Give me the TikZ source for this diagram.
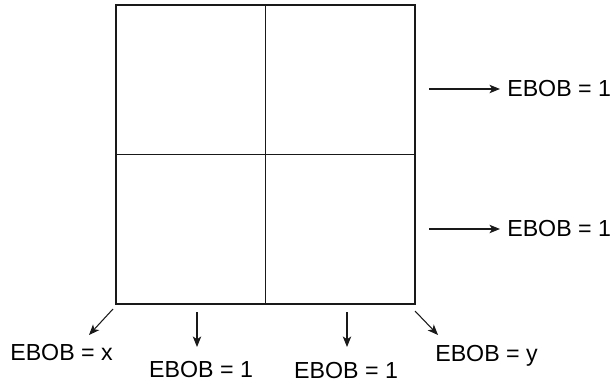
\documentclass[tikz,border=0pt]{standalone}
\usepackage{fontspec}
\setmainfont{Liberation Sans}
\usetikzlibrary{arrows.meta}

\tikzset{
  lbl/.style={font=\fontsize{16.5}{18}\selectfont, inner sep=0pt},
  pointer/.style={-{Stealth[length=7.5pt,width=6pt,inset=2pt]}, line width=0.75pt, black!90}
}

\begin{document}
\begin{tikzpicture}[x=0.025cm,y=-0.025cm]
\useasboundingbox (0,0) rectangle (615,385);

% grid of four cells:
\draw[line width=0.8pt, black!90] (116,5) rectangle (415,304);
\draw[line width=0.8pt, black!90] (265.5,5) -- (265.5,304);
\draw[line width=0.8pt, black!90] (116,154.5) -- (415,154.5);

% arrow ends:
\coordinate (r1s) at (429,89);
\coordinate (r2s) at (429,229);
\coordinate (sws) at (113,309);
\coordinate (swe) at (89,335);
\coordinate (d1s) at (197,312);
\coordinate (d1e) at (197,347);
\coordinate (d2s) at (347,312);
\coordinate (d2e) at (347,347);
\coordinate (ses) at (415,311);
\coordinate (see) at (438,335);

% labels:
\node[lbl, anchor=west] (r1) at (507,89) {EBOB = 1};
\node[lbl, anchor=west] (r2) at (507,229) {EBOB = 1};
\node[lbl, anchor=base west] (lx) at (10,360) {EBOB = x};
\node[lbl, anchor=base] (l1) at (201,377) {EBOB = 1};
\node[lbl, anchor=base] (l2) at (346,378) {EBOB = 1};
\node[lbl, anchor=base west] (ly) at (435,361) {EBOB = y};

% arrows:
\draw[pointer, shorten >=5pt] (r1s) -- (r1.west);
\draw[pointer, shorten >=5pt] (r2s) -- (r2.west);
\draw[pointer] (sws) -- (swe);
\draw[pointer] (d1s) -- (d1e);
\draw[pointer] (d2s) -- (d2e);
\draw[pointer] (ses) -- (see);

\end{tikzpicture}
\end{document}
